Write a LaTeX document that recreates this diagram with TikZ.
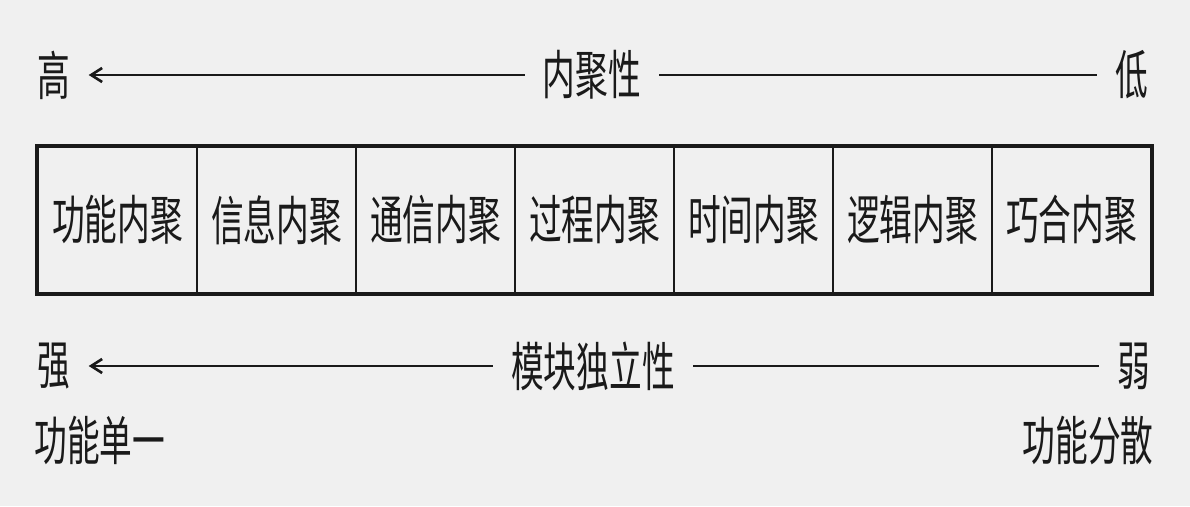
\documentclass[tikz,border=0pt]{standalone}
\usepackage{fontspec}
\newfontfamily\cjk[FakeStretch=0.62]{Noto Sans CJK SC}
\usetikzlibrary{arrows.meta,positioning}
\definecolor{bgray}{HTML}{F0F0F0}
\definecolor{ink}{HTML}{1A1A1A}

\begin{document}
\begin{tikzpicture}[
    tag/.style={font=\cjk\fontsize{30}{33}\selectfont, text=ink, inner xsep=0.36cm, inner ysep=0pt},
    cell/.style={rectangle, draw=ink, line width=1.2pt, minimum width=3.18cm, minimum height=2.92cm, font=\cjk\fontsize{30}{33}\selectfont, text=ink, inner sep=0pt},
    scale line/.style={draw=ink, line width=1.5pt},
    arrow/.style={scale line, -{Straight Barb[length=2.2mm,width=2.8mm]}}
]
\useasboundingbox[fill=bgray] (0,0) rectangle (23.8,10.12);

% Cohesion scale
\node[tag] (high) at (1.08,8.62) {高};
\node[tag] (cohesion) at (11.84,8.62) {内聚性};
\node[tag] (low) at (22.64,8.62) {低};

% Cohesion kinds
\foreach \name [count=\i] in {功能内聚,信息内聚,通信内聚,过程内聚,时间内聚,逻辑内聚,巧合内聚}
    \node[cell] (c\i) at ({0.76+1.59+(\i-1)*3.18},5.72) {\name};
\draw[ink, line width=2pt] (c1.north west) rectangle (c7.south east);

% Independence scale
\node[tag] (strong) at (1.08,2.8) {强};
\node[tag] (independence) at (11.86,2.8) {模块独立性};
\node[tag] (weak) at (22.68,2.8) {弱};
\node[tag] (single) at (2.0,1.32) {功能单一};
\node[tag] (scattered) at (21.76,1.32) {功能分散};

% Connections
\draw[arrow] (cohesion) -- (high);
\draw[scale line] (cohesion) -- (low);
\draw[arrow] (independence) -- (strong);
\draw[scale line] (independence) -- (weak);

\end{tikzpicture}
\end{document}
